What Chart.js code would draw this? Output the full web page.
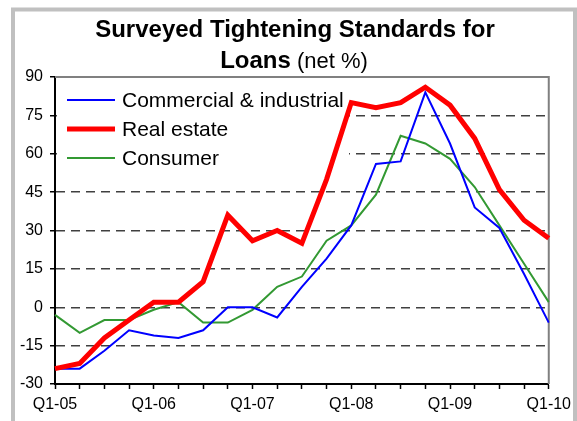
<!DOCTYPE html>
<html>
<head>
<meta charset="utf-8">
<script src="https://cdn.jsdelivr.net/npm/chart.js@4/dist/chart.umd.min.js"></script>
<style>
  body { margin: 0; background: #fff; }
</style>
</head>
<body>
<canvas id="loansChart" width="577" height="421"></canvas>
<script>
// Quarterly survey, Q1-05 .. Q1-10
const quarters = [
    'Q1-05', 'Q2-05', 'Q3-05', 'Q4-05',
    'Q1-06', 'Q2-06', 'Q3-06', 'Q4-06',
    'Q1-07', 'Q2-07', 'Q3-07', 'Q4-07',
    'Q1-08', 'Q2-08', 'Q3-08', 'Q4-08',
    'Q1-09', 'Q2-09', 'Q3-09', 'Q4-09',
    'Q1-10'
];
const commercialIndustrial = [-24, -24, -17, -9, -11, -12, -9, 0, 0, -4, 8, 19, 32, 56, 57, 84, 64, 39, 31, 13, -6];
const realEstate = [-24, -22, -12, -5, 2, 2, 10, 36, 26, 30, 25, 50, 80, 78, 80, 86, 79, 66, 46, 34, 27];
const consumer = [-3, -10, -5, -5, -1, 2, -6, -6, -1, 8, 12, 26, 32, 44, 67, 64, 58, 47, 32, 17, 2];
const yTicks = [-30, -15, 0, 15, 30, 45, 60, 75, 90];

const seriesNames = ['Commercial & industrial', 'Real estate', 'Consumer'];
const seriesColors = ['#0000ff', '#ff0000', '#339933'];
const seriesWidths = [2, 5, 2];

// Title, frame, plot borders and in-plot legend
const decorations = {
    id: 'decorations',
    beforeDraw(chart) {
        const c = chart.ctx;
        c.save();
        c.strokeStyle = '#c0c0c0';
        c.lineWidth = 4;
        c.strokeRect(13, 9.5, 562, 430);

        c.fillStyle = '#000';
        c.textBaseline = 'alphabetic';
        c.textAlign = 'center';
        c.font = 'bold 24px "Liberation Sans", Arial, sans-serif';
        c.fillText('Surveyed Tightening Standards for', 295, 37);

        const boldPart = 'Loans';
        const plainPart = ' (net %)';
        c.font = 'bold 24px "Liberation Sans", Arial, sans-serif';
        const w1 = c.measureText(boldPart).width;
        c.font = '22px "Liberation Sans", Arial, sans-serif';
        const w2 = c.measureText(plainPart).width;
        const startX = 294 - (w1 + w2) / 2;
        c.textAlign = 'left';
        c.font = 'bold 24px "Liberation Sans", Arial, sans-serif';
        c.fillText(boldPart, startX, 68);
        c.font = '22px "Liberation Sans", Arial, sans-serif';
        c.fillText(plainPart, startX + w1, 68);
        c.restore();
    },
    beforeDatasetsDraw(chart) {
        const c = chart.ctx;
        const a = chart.chartArea;
        c.save();
        // top and right plot border
        c.strokeStyle = '#808080';
        c.lineWidth = 2;
        c.beginPath();
        c.moveTo(a.left, a.top);
        c.lineTo(a.right, a.top);
        c.lineTo(a.right, a.bottom);
        c.stroke();

        // legend box over the grid
        c.fillStyle = '#fff';
        c.fillRect(a.left + 2, a.top + 2, 292, 92);
        c.font = '21px "Liberation Sans", Arial, sans-serif';
        c.textBaseline = 'middle';
        c.textAlign = 'left';
        const rows = [100, 129, 158];
        seriesNames.forEach((name, i) => {
            c.strokeStyle = seriesColors[i];
            c.lineWidth = seriesWidths[i];
            c.beginPath();
            c.moveTo(67, rows[i]);
            c.lineTo(115, rows[i]);
            c.stroke();
            c.fillStyle = '#000';
            c.fillText(name, 122, rows[i] + 1);
        });
        c.restore();
    }
};

const ctx = document.getElementById('loansChart').getContext('2d');
const loansChart = new Chart(ctx, {
    type: 'line',
    data: {
        labels: quarters,
        datasets: [commercialIndustrial, realEstate, consumer].map((values, i) => ({
            label: seriesNames[i],
            data: values,
            borderColor: seriesColors[i],
            borderWidth: seriesWidths[i],
            pointRadius: 0,
            tension: 0,
            fill: false,
            order: i === 1 ? 0 : 1
        }))
    },
    options: {
        responsive: false,
        animation: false,
        layout: {
            padding: { left: 0, right: 24, top: 77, bottom: 0 }
        },
        plugins: {
            legend: { display: false },
            title: { display: false },
            tooltip: { enabled: false }
        },
        scales: {
            x: {
                type: 'category',
                offset: false,
                afterFit: s => { s.height = 37; },
                ticks: {
                    autoSkip: false,
                    maxRotation: 0,
                    padding: 6,
                    color: '#000',
                    font: { size: 16, family: '"Liberation Sans", Arial, sans-serif' },
                    callback: function (value) {
                        const lab = this.getLabelForValue(value);
                        return lab.startsWith('Q1') ? lab : '';
                    }
                },
                grid: {
                    drawOnChartArea: false,
                    drawTicks: true,
                    tickLength: 5,
                    tickColor: '#000',
                    tickWidth: 1.5
                },
                border: { color: '#000', width: 2 }
            },
            y: {
                min: -30,
                max: 90,
                afterFit: s => { s.width = 55; },
                afterBuildTicks: s => { s.ticks = yTicks.map(v => ({ value: v })); },
                ticks: {
                    padding: 7,
                    color: '#000',
                    font: { size: 16, family: '"Liberation Sans", Arial, sans-serif' }
                },
                grid: {
                    color: c => (c.tick && (c.tick.value === 90 || c.tick.value === -30)) ? 'rgba(0,0,0,0)' : '#404040',
                    lineWidth: 1.5,
                    tickLength: 5,
                    tickColor: '#000',
                    tickWidth: 1.5
                },
                border: { color: '#000', width: 2, dash: [9, 6] }
            }
        }
    },
    plugins: [decorations]
});
</script>
</body>
</html>
